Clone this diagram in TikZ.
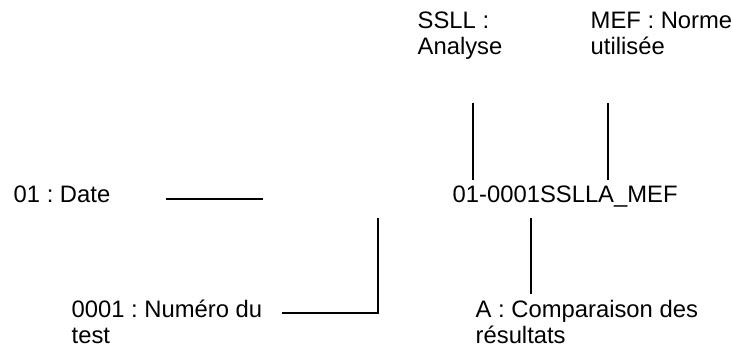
\documentclass[tikz,border=0pt]{standalone}
\usepackage{fontspec}
\setmainfont{Liberation Sans}
\frenchspacing
\begin{document}
\begin{tikzpicture}[x=0.5pt, y=-0.5pt, line cap=butt, line width=0.7pt,
	font=\fontsize{11.9}{13}\selectfont,
	lbl/.style={anchor=base west, inner sep=0pt, align=left}]
	\useasboundingbox (0,0) rectangle (733,349);
	
	% base = baseline of the last line
	\node[lbl] (date) at (13,202) {01 : Date};
	\node[lbl] (code) at (452,202) {01-0001SSLLA\_MEF};
	\node[lbl] (ssll) at (417,54) {SSLL :\\Analyse};
	\node[lbl] (mef) at (590,54) {MEF : Norme\\utilisée};
	\node[lbl] (num) at (71,343) {0001 : Numéro du\\test};
	\node[lbl] (comp) at (475,343) {A : Comparaison des\\résultats};
	
	\path
	(166,199) coordinate (D1)
	(263,199) coordinate (D2)
	(473,103) coordinate (S1)
	(473,180) coordinate (S2)
	(608,103) coordinate (M1)
	(608,180) coordinate (M2)
	(531,218) coordinate (A1)
	(531,294) coordinate (A2)
	(378,218) coordinate (N1)
	(378,313) coordinate (N2)
	(282,313) coordinate (N3);
	
	\foreach \a/\b in {D1/D2, S1/S2, M1/M2, A1/A2}
	\draw (\a) -- (\b);
	\draw (N1) -- (N2) -- (N3);
\end{tikzpicture}
\end{document}
